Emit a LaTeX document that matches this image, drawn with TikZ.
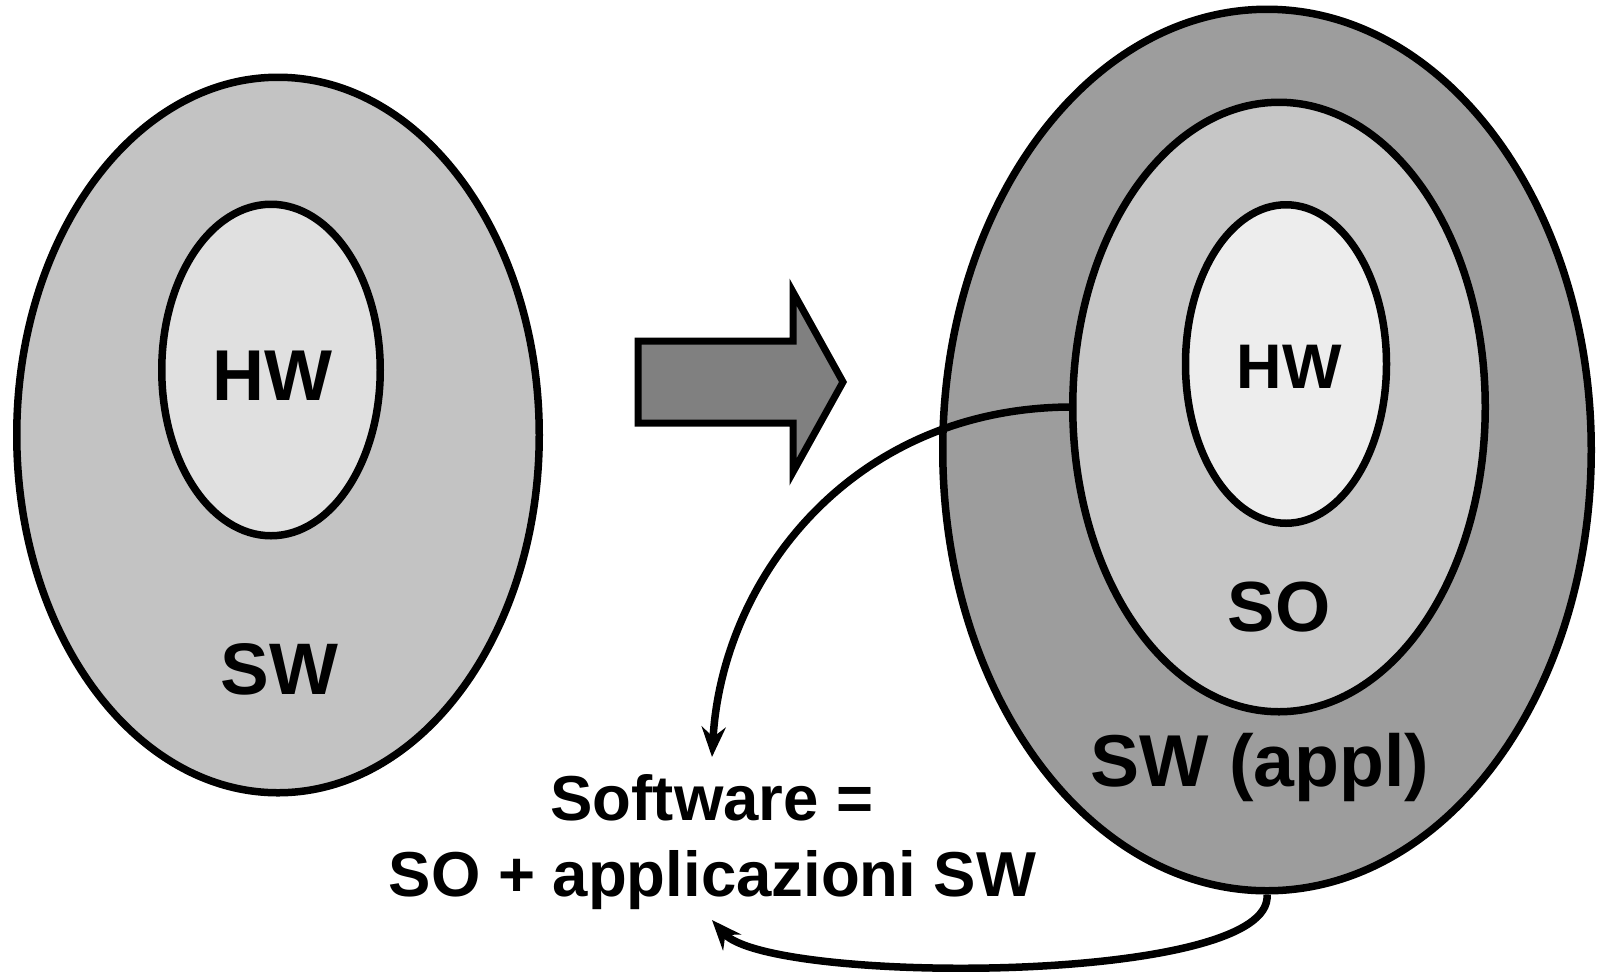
\documentclass[tikz,border=0pt]{standalone}
\usepackage{fontspec}
\setmainfont{Liberation Sans}
\usetikzlibrary{shapes.geometric,arrows.meta}
\definecolor{outerL}{gray}{0.765}
\definecolor{innerL}{gray}{0.878}
\definecolor{outerR}{gray}{0.615}
\definecolor{midR}{gray}{0.776}
\definecolor{innerR}{gray}{0.929}
\definecolor{arrowfill}{gray}{0.5}
\begin{document}
\begin{tikzpicture}[x=0.5pt,y=-0.5pt,
  blob/.style={ellipse, draw=black, line width=3.75pt, inner sep=0pt},
  lbl/.style={anchor=base, inner sep=0pt, font=\bfseries},
  link/.style={line width=3.75pt, -{Stealth[length=15pt,width=12pt,inset=5pt]}}]
\useasboundingbox (0,0) rectangle (1597,971);
% left
\node[blob, fill=outerL, minimum width=261.25pt, minimum height=357.75pt] (Lout) at (278,435) {};
\node[blob, fill=innerL, minimum width=109.25pt, minimum height=165.75pt] (Lin) at (271,370) {};
\node[lbl, font=\bfseries\fontsize{36}{40}\selectfont] (Lhw) at (272,400) {HW};
\node[lbl, font=\bfseries\fontsize{36.5}{40}\selectfont] (Lsw) at (279.5,694) {SW};
% big arrow
\draw[fill=arrowfill, line width=3.5pt, line join=miter] (638,341) -- (793,341) -- (793,292) -- (843,382) -- (793,472) -- (793,423) -- (638,423) -- cycle;
% right
\node[blob, fill=outerR, minimum width=324.25pt, minimum height=440.75pt] (Rout) at (1267,450) {};
\node[blob, fill=midR, minimum width=206.25pt, minimum height=304.75pt] (Rmid) at (1279,407) {};
\node[blob, fill=innerR, minimum width=100.5pt, minimum height=159.25pt] (Rin) at (1286,364) {};
\node[lbl, font=\bfseries\fontsize{31.5}{36}\selectfont] (Rhw) at (1289,388) {HW};
\node[lbl, font=\bfseries\fontsize{35.5}{40}\selectfont] (Rso) at (1279,631) {SO};
\node[lbl, font=\bfseries\fontsize{36.75}{40}\selectfont] (Rsw) at (1260,786) {SW (appl)};
% caption
\node[lbl, font=\bfseries\fontsize{31.75}{38}\selectfont] (cap1) at (712,820) {Software =};
\node[lbl, font=\bfseries\fontsize{31.75}{38}\selectfont] (cap2) at (712.5,896) {SO + applicazioni SW};
\coordinate (t1) at (712,757);
\coordinate (t2) at (712,920);
% connectors
\draw[link] (Rmid.west) .. controls (850,409) and (722,580) .. (t1);
\draw[link] (Rout.south) .. controls (1275,985) and (770,985) .. (t2);
\end{tikzpicture}
\end{document}
